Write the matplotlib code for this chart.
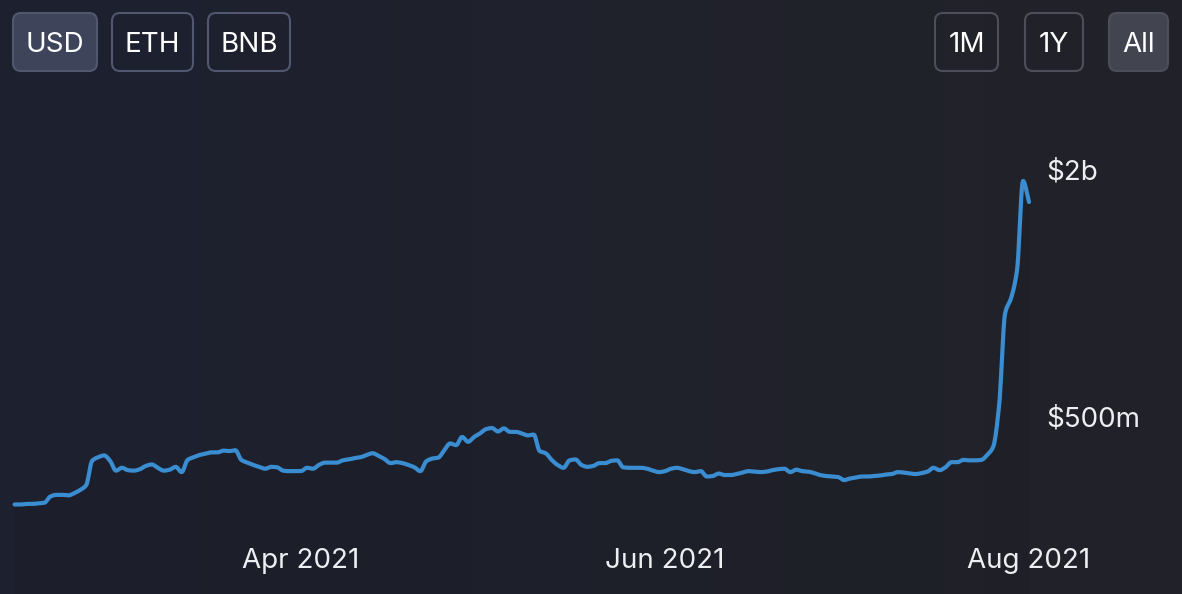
import matplotlib
matplotlib.use("Agg")
import matplotlib.pyplot as plt
import matplotlib.dates as mdates
from matplotlib.patches import FancyBboxPatch
import numpy as np
import pandas as pd

plt.rcParams["font.family"] = ["Inter", "DejaVu Sans"]

# TVL in $m (roughly daily)
start = "2021-02-12"
tvl = [
    306, 306, 307, 307, 308, 309, 320, 323, 323, 322, 326, 332, 341, 391, 399, 403,
    391, 370, 376, 371, 370, 373, 380, 383, 376, 370, 372, 378, 367, 393, 399, 404,
    407, 410, 410, 414, 413, 415, 393, 387, 382, 378, 374, 378, 377, 370, 369, 369,
    369, 376, 374, 382, 387, 387, 387, 392, 394, 397, 399, 404, 408, 402, 395, 386,
    388, 386, 382, 377, 369, 390, 396, 398, 415, 431, 427, 447, 435, 447, 456, 467,
    470, 461, 469, 460, 460, 456, 451, 453, 413, 408, 393, 382, 376, 392, 394, 382,
    378, 380, 386, 386, 391, 392, 377, 376, 376, 376, 374, 370, 367, 369, 374, 376,
    373, 369, 367, 369, 358, 359, 364, 361, 361, 363, 366, 369, 368, 367, 368, 371,
    373, 374, 367, 372, 369, 368, 365, 361, 359, 358, 357, 351, 354, 356, 358, 358,
    359, 360, 362, 363, 367, 366, 364, 363, 365, 368, 376, 371, 377, 388, 388, 393,
    392, 392, 393, 404, 423, 535, 896, 975, 1141, 1881, 1671,
]
dates = pd.date_range(start, periods=len(tvl), freq="D")

currency_buttons = ["USD", "ETH", "BNB"]
range_buttons = ["1M", "1Y", "All"]
x_ticks = ["2021-04-01", "2021-06-01", "2021-08-01"]
x_tick_labels = ["Apr 2021", "Jun 2021", "Aug 2021"]
y_ticks = [2000, 500]
y_tick_labels = ["$2b", "$500m"]


def monotone_curve(xs, ys, n=10):
    # monotone cubic (Fritsch-Carlson) so the drawn line is smooth like the web chart
    xs = np.asarray(xs, float)
    ys = np.asarray(ys, float)
    h = np.diff(xs)
    d = np.diff(ys) / h
    m = np.zeros_like(ys)
    m[0], m[-1] = d[0], d[-1]
    for i in range(1, len(ys) - 1):
        if d[i - 1] * d[i] > 0:
            w1 = 2 * h[i] + h[i - 1]
            w2 = h[i] + 2 * h[i - 1]
            m[i] = (w1 + w2) / (w1 / d[i - 1] + w2 / d[i])
    out_x, out_y = [], []
    t = np.linspace(0, 1, n, endpoint=False)
    for i in range(len(h)):
        h00 = 2 * t**3 - 3 * t**2 + 1
        h10 = t**3 - 2 * t**2 + t
        h01 = -2 * t**3 + 3 * t**2
        h11 = t**3 - t**2
        out_x.append(xs[i] + t * h[i])
        out_y.append(h00 * ys[i] + h10 * h[i] * m[i] + h01 * ys[i + 1] + h11 * h[i] * m[i + 1])
    out_x.append([xs[-1]])
    out_y.append([ys[-1]])
    return np.concatenate(out_x), np.concatenate(out_y)


W, H = 1182, 594
fig = plt.figure(figsize=(W / 100, H / 100), dpi=100)

# background with a faint left-to-right tint
bg = fig.add_axes([0, 0, 1, 1])
grad = np.linspace(0, 1, 256).reshape(1, -1)
c0 = np.array([29, 32, 47]) / 255
c1 = np.array([34, 35, 41]) / 255
img = c0[None, None, :] * (1 - grad[..., None]) + c1[None, None, :] * grad[..., None]
bg.imshow(img, aspect="auto", extent=[0, 1, 0, 1], interpolation="bilinear")
bg.axis("off")

# main chart axes spans the whole figure; limits put ticks where the reference has them
ax = fig.add_axes([0, 0, 1, 1])
ax.patch.set_alpha(0)
a = mdates.date2num(pd.Timestamp(x_ticks[0]))
b = mdates.date2num(pd.Timestamp(x_ticks[-1]))
px_a, px_b = 301, 1029
per_px = (b - a) / (px_b - px_a)
ax.set_xlim(a - px_a * per_px, a + (W - px_a) * per_px)

ax.set_yscale("log")
py_hi, py_lo = 170, 417
l_hi, l_lo = np.log10(y_ticks[0]), np.log10(y_ticks[1])
per_py = (l_hi - l_lo) / (py_lo - py_hi)
ax.set_ylim(10 ** (l_lo - (H - py_lo) * per_py), 10 ** (l_lo + py_lo * per_py))
ax.axis("off")

x = mdates.date2num(dates)
sx, sy = monotone_curve(x, np.log10(tvl))
sy = 10 ** sy
ax.fill_between(sx, sy, 1, color="#15161c", alpha=0.12, linewidth=0)
ax.plot(sx, sy, color="#3a8dd0", linewidth=3.0, solid_joinstyle="round",
        solid_capstyle="round")

for t, lab in zip(x_ticks, x_tick_labels):
    ax.text(mdates.date2num(pd.Timestamp(t)), (H - 558) / H, lab,
            transform=ax.get_xaxis_transform(), ha="center", va="center_baseline",
            fontsize=20, color="#eceef2")
for v, lab in zip(y_ticks, y_tick_labels):
    ax.text(1046 / W, v, lab, transform=ax.get_yaxis_transform(),
            ha="left", va="center_baseline", fontsize=20, color="#eceef2")

# toggle buttons drawn in pixel coordinates
ui = fig.add_axes([0, 0, 1, 1])
ui.set_xlim(0, W)
ui.set_ylim(H, 0)
ui.patch.set_alpha(0)
ui.axis("off")

def button(x0, x1, label, active, fill, edge):
    box = FancyBboxPatch((x0, 13), x1 - x0, 58,
                         boxstyle="round,pad=0,rounding_size=8",
                         facecolor=fill if active else "none",
                         edgecolor=edge, linewidth=1.5)
    ui.add_patch(box)
    ui.text((x0 + x1) / 2, 42, label, ha="center", va="center_baseline",
            fontsize=20, color="#ffffff")

cur_pos = [(13, 97), (112, 193), (208, 290)]
for (x0, x1), lab in zip(cur_pos, currency_buttons):
    button(x0, x1, lab, lab == "USD", "#3e455b", "#50576e")

rng_pos = [(935, 998), (1025, 1083), (1109, 1168)]
for (x0, x1), lab in zip(rng_pos, range_buttons):
    button(x0, x1, lab, lab == "All", "#42444f", "#4c4e59")

fig.savefig("out.png", dpi=100, facecolor=fig.get_facecolor())
print("Saved: out.png")
